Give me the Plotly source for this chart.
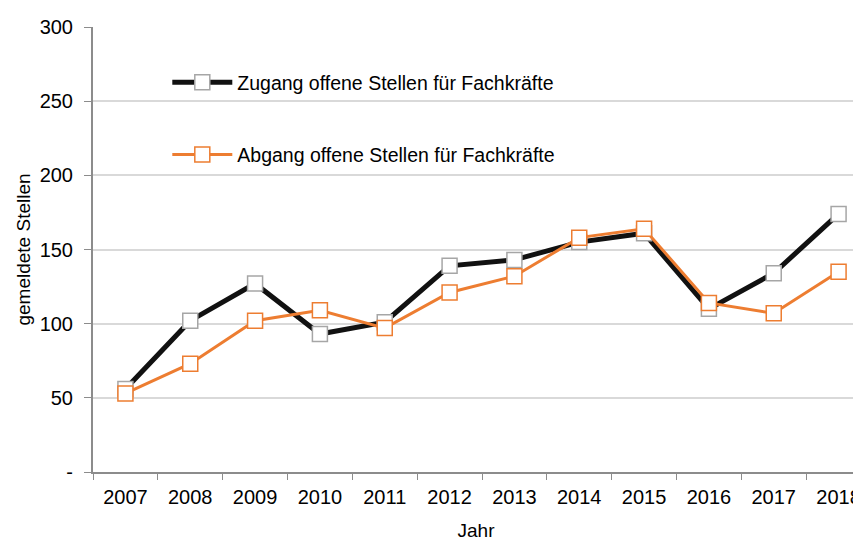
import plotly.graph_objects as go

# data
years = ['2007', '2008', '2009', '2010', '2011', '2012',
         '2013', '2014', '2015', '2016', '2017', '2018']
zugang = [56, 102, 127, 93, 101, 139, 143, 155, 161, 110, 134, 174]
abgang = [53, 73, 102, 109, 97, 121, 132, 158, 164, 114, 107, 135]
y_ticks = [0, 50, 100, 150, 200, 250, 300]
y_tick_labels = ['-', '50', '100', '150', '200', '250', '300']

font_family = 'Liberation Sans, Arial, sans-serif'
orange = '#ed7d31'
axis_grey = '#8c8c8c'

fig = go.Figure()

fig.add_trace(go.Scatter(
    x=years, y=zugang,
    mode='lines+markers',
    name='Zugang offene Stellen für Fachkräfte',
    line=dict(color='#111111', width=5),
    marker=dict(symbol='square', size=15, color='white',
                line=dict(color='#a6a6a6', width=1.5)),
    legend='legend',
))

fig.add_trace(go.Scatter(
    x=years, y=abgang,
    mode='lines+markers',
    name='Abgang offene Stellen für Fachkräfte',
    line=dict(color=orange, width=3),
    marker=dict(symbol='square', size=15, color='white',
                line=dict(color=orange, width=1.5)),
    legend='legend2',
))

# white box behind the legend hiding the gridlines
fig.add_shape(type='rect', xref='paper', yref='paper',
              x0=0.044, x1=0.667, y0=0.62, y1=0.94,
              fillcolor='white', line=dict(width=0), layer='between')

legend_style = dict(
    xanchor='left', yanchor='middle',
    bgcolor='rgba(0,0,0,0)',
    font=dict(size=19.5, color='#000000', family=font_family),
    itemwidth=60,
)

# the page body adds an 8px offset, margins are set so the plot area
# lands where it sits in the reference
fig.update_layout(
    width=861, height=542,
    margin=dict(l=85, r=8, t=15, b=78),
    plot_bgcolor='white',
    paper_bgcolor='white',
    font=dict(family=font_family, size=20, color='#000000'),
    showlegend=True,
    legend=dict(x=0.097, y=0.875, **legend_style),
    legend2=dict(x=0.097, y=0.713, **legend_style),
    xaxis=dict(
        type='category',
        range=[-0.5, 11.315],
        tickson='boundaries',
        ticks='outside', ticklen=6, tickcolor=axis_grey,
        showline=True, linecolor=axis_grey, linewidth=2,
        showgrid=False,
        ticklabelstandoff=6,
        title=dict(text='Jahr', font=dict(size=19), standoff=17),
        tickfont=dict(size=20),
    ),
    yaxis=dict(
        range=[0, 300],
        tickvals=y_ticks, ticktext=y_tick_labels,
        ticks='outside', ticklen=7, tickcolor=axis_grey,
        showline=True, linecolor=axis_grey, linewidth=2,
        showgrid=True, gridcolor='#d9d9d9', gridwidth=1.5,
        zeroline=False,
        ticklabelstandoff=7,
        title=dict(text='gemeldete Stellen', font=dict(size=19), standoff=4),
        tickfont=dict(size=20),
    ),
)

fig.write_html('out.html')
